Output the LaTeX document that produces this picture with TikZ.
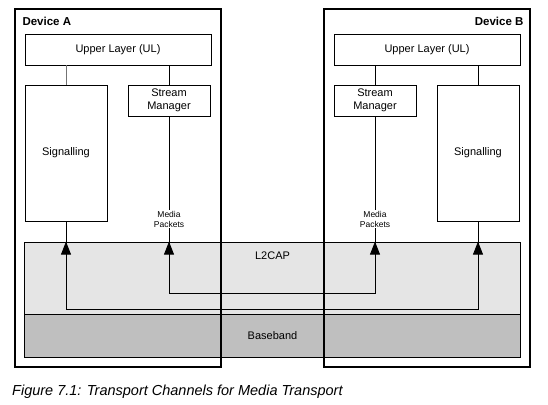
\documentclass[tikz,border=0pt]{standalone}
\usepackage{fontspec}
\setmainfont{Liberation Sans}
\usetikzlibrary{arrows.meta}
\tikzset{
  box/.style={draw, line width=0.8pt, rectangle, inner sep=0pt, fill=white, font=\fontsize{11}{13}\selectfont},
  devbox/.style={draw, line width=2pt},
  conn/.style={line width=0.8pt},
  uptip/.style={line width=0.8pt, -{Triangle[width=10pt,length=13pt]}},
  medialbl/.style={fill=white, inner sep=1pt, align=center, font=\fontsize{8.5}{10}\selectfont},
  layerlbl/.style={font=\fontsize{11}{13}\selectfont},
}
\begin{document}
\begin{tikzpicture}[x=1pt,y=-1pt]
\useasboundingbox (0,0) rectangle (548,404);
% shared layers
\node[draw, line width=0.8pt, fill=black!10, minimum width=496pt, minimum height=72pt, inner sep=0pt] (l2cap) at (272.5,278) {};
\node[layerlbl] (l2caplbl) at (272.5,256) {L2CAP};
\node[draw, line width=0.8pt, fill=black!25, minimum width=496pt, minimum height=43pt, inner sep=0pt] (bb) at (272.5,335.5) {};
\node[layerlbl] (bblbl) at (272.5,335.5) {Baseband};
% device frames
\draw[devbox] (15,9) rectangle (221,367);
\draw[devbox] (324,9) rectangle (530,367);
\node[font=\bfseries\fontsize{11.5}{13}\selectfont, anchor=west] (devA) at (19,21.5) {Device A};
\node[font=\bfseries\fontsize{11.5}{13}\selectfont, anchor=east] (devB) at (527,21.5) {Device B};
% device A
\node[box, minimum width=186pt, minimum height=31pt] (ulA) at (118,49.5) {Upper Layer (UL)};
\node[box, minimum width=82pt, minimum height=136pt] (sigA) at (66,153) {Signalling};
\node[box, minimum width=82pt, minimum height=31pt, align=center, font=\fontsize{11}{13.5}\selectfont] (smA) at (169,100.5) {Stream\\Manager};
% device B
\node[box, minimum width=186pt, minimum height=31pt] (ulB) at (427,49.5) {Upper Layer (UL)};
\node[box, minimum width=82pt, minimum height=31pt, align=center, font=\fontsize{11}{13.5}\selectfont] (smB) at (375,100.5) {Stream\\Manager};
\node[box, minimum width=82pt, minimum height=136pt] (sigB) at (478,153) {Signalling};
% UL connections
\draw[conn, draw=black!55] (ulA.south -| sigA) -- (sigA.north);
\draw[conn] (ulA.south -| smA) -- (smA.north);
\draw[conn] (ulB.south -| smB) -- (smB.north);
\draw[conn] (ulB.south -| sigB) -- (sigB.north);
% channels
\coordinate (inner) at (0,293);
\coordinate (outer) at (0,309);
\draw[conn] (smA.south) -- (smA.south |- inner) -| (smB.south);
\draw[conn] (sigA.south) -- (sigA.south |- outer) -| (sigB.south);
\coordinate (tA1) at (66,258);
\coordinate (tA2) at (169,258);
\coordinate (tB1) at (375,258);
\coordinate (tB2) at (478,258);
\draw[uptip] (tA1) -- (tA1 |- l2cap.north);
\draw[uptip] (tA2) -- (tA2 |- l2cap.north);
\draw[uptip] (tB1) -- (tB1 |- l2cap.north);
\draw[uptip] (tB2) -- (tB2 |- l2cap.north);
\node[medialbl] (mpA) at (169,219) {Media\\Packets};
\node[medialbl] (mpB) at (375,219) {Media\\Packets};
% caption
\node[anchor=west, inner sep=0pt, font=\itshape\fontsize{14.5}{16}\selectfont] (cap) at (12,392) {Figure 7.1: Transport Channels for Media Transport};
\end{tikzpicture}
\end{document}
